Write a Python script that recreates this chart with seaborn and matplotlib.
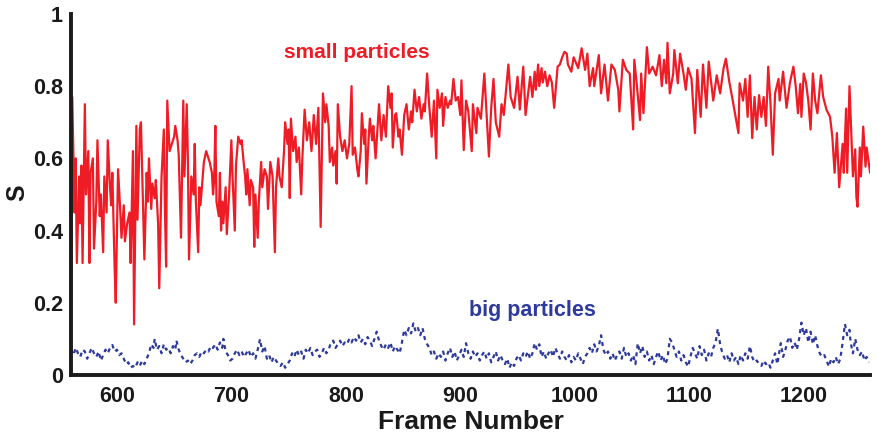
import numpy as np
import pandas as pd
import matplotlib
matplotlib.use("Agg")
import matplotlib.pyplot as plt
import seaborn as sns

# Order parameter S per frame, small particles
small_frames = [
    560, 561, 563, 564, 565, 567, 568, 569, 570, 572, 573, 575, 576, 577, 579, 580, 582, 583, 585, 586,
    588, 589, 591, 592, 594, 595, 596, 598, 599, 601, 603, 604, 606, 607, 609, 611, 612, 614, 615, 617,
    618, 620, 621, 623, 624, 626, 627, 628, 630, 631, 633, 634, 636, 637, 639, 641, 642, 643, 644, 646,
    648, 650, 651, 653, 654, 656, 658, 659, 661, 662, 663, 665, 667, 668, 669, 671, 672, 673, 675, 676,
    678, 680, 681, 683, 684, 685, 686, 687, 689, 690, 691, 692, 693, 695, 696, 698, 700, 701, 703, 704,
    706, 708, 709, 711, 712, 713, 714, 716, 717, 719, 720, 721, 723, 724, 726, 727, 729, 731, 732, 734,
    736, 738, 739, 741, 742, 744, 746, 747, 749, 750, 751, 752, 754, 756, 757, 759, 761, 762, 764, 766,
    768, 770, 772, 774, 776, 778, 780, 782, 783, 785, 786, 788, 789, 791, 792, 793, 795, 797, 799, 801,
    803, 805, 806, 808, 810, 811, 813, 814, 816, 817, 818, 820, 821, 823, 824, 826, 828, 829, 831, 833,
    835, 837, 839, 840, 841, 843, 844, 846, 847, 849, 851, 853, 855, 857, 858, 860, 862, 864, 866, 868,
    869, 871, 873, 875, 877, 879, 880, 882, 884, 885, 887, 889, 891, 892, 894, 896, 898, 900, 901, 903,
    905, 907, 910, 911, 914, 915, 918, 921, 923, 925, 927, 929, 931, 934, 936, 938, 942, 944, 947, 950,
    952, 955, 957, 961, 963, 965, 966, 968, 969, 971, 972, 974, 976, 978, 980, 982, 985, 987, 989, 991,
    993, 994, 997, 999, 1003, 1006, 1009, 1011, 1013, 1016, 1017, 1021, 1023, 1026, 1029, 1032, 1035, 1038, 1039, 1042,
    1045, 1048, 1051, 1052, 1054, 1057, 1058, 1060, 1063, 1065, 1068, 1071, 1074, 1076, 1078, 1080, 1081, 1083, 1086, 1087,
    1090, 1092, 1095, 1097, 1099, 1102, 1105, 1107, 1110, 1112, 1115, 1117, 1121, 1124, 1127, 1130, 1132, 1135, 1138, 1143,
    1144, 1147, 1149, 1151, 1153, 1155, 1157, 1159, 1161, 1163, 1165, 1167, 1169, 1171, 1173, 1175, 1178, 1179, 1182, 1185,
    1188, 1191, 1193, 1195, 1197, 1198, 1200, 1202, 1204, 1206, 1208, 1210, 1212, 1215, 1217, 1220, 1223, 1225, 1227, 1229,
    1230, 1231, 1234, 1235, 1237, 1238, 1240, 1242, 1243, 1245, 1246, 1247, 1249, 1250, 1252, 1254, 1255, 1258,
]
small_s = [
    0.20, 0.77, 0.45, 0.60, 0.31, 0.55, 0.42, 0.58, 0.31, 0.75, 0.50, 0.62, 0.31, 0.56, 0.60, 0.35, 0.48, 0.65, 0.44, 0.50,
    0.34, 0.55, 0.45, 0.65, 0.52, 0.47, 0.56, 0.30, 0.20, 0.57, 0.45, 0.38, 0.47, 0.37, 0.42, 0.45, 0.31, 0.62, 0.14, 0.69,
    0.43, 0.68, 0.70, 0.45, 0.32, 0.56, 0.48, 0.60, 0.46, 0.53, 0.49, 0.54, 0.42, 0.24, 0.55, 0.68, 0.45, 0.30, 0.76, 0.62,
    0.64, 0.66, 0.69, 0.65, 0.61, 0.38, 0.76, 0.55, 0.75, 0.60, 0.32, 0.55, 0.50, 0.64, 0.48, 0.34, 0.52, 0.47, 0.55, 0.59,
    0.62, 0.60, 0.59, 0.56, 0.50, 0.54, 0.69, 0.48, 0.44, 0.56, 0.40, 0.48, 0.42, 0.52, 0.39, 0.50, 0.65, 0.55, 0.40, 0.58,
    0.66, 0.64, 0.65, 0.58, 0.55, 0.50, 0.57, 0.47, 0.54, 0.52, 0.355, 0.50, 0.38, 0.48, 0.59, 0.52, 0.57, 0.55, 0.46, 0.59,
    0.55, 0.34, 0.52, 0.60, 0.55, 0.52, 0.62, 0.70, 0.64, 0.68, 0.49, 0.71, 0.62, 0.66, 0.59, 0.63, 0.50, 0.60, 0.735, 0.65,
    0.70, 0.62, 0.72, 0.64, 0.74, 0.41, 0.78, 0.70, 0.75, 0.69, 0.59, 0.63, 0.58, 0.62, 0.53, 0.75, 0.66, 0.62, 0.65, 0.60,
    0.64, 0.80, 0.61, 0.63, 0.57, 0.55, 0.62, 0.725, 0.64, 0.68, 0.53, 0.66, 0.71, 0.65, 0.69, 0.60, 0.70, 0.75, 0.65, 0.72,
    0.66, 0.80, 0.74, 0.78, 0.63, 0.72, 0.725, 0.66, 0.68, 0.61, 0.72, 0.75, 0.68, 0.73, 0.70, 0.79, 0.73, 0.77, 0.71, 0.75,
    0.73, 0.835, 0.74, 0.66, 0.76, 0.60, 0.79, 0.74, 0.78, 0.69, 0.77, 0.74, 0.76, 0.75, 0.82, 0.76, 0.77, 0.72, 0.816, 0.623,
    0.76, 0.73, 0.62, 0.75, 0.67, 0.74, 0.71, 0.835, 0.72, 0.605, 0.74, 0.82, 0.70, 0.66, 0.75, 0.72, 0.86, 0.77, 0.74, 0.826,
    0.735, 0.854, 0.72, 0.826, 0.77, 0.84, 0.79, 0.86, 0.80, 0.85, 0.81, 0.84, 0.80, 0.83, 0.81, 0.74, 0.854, 0.86, 0.88, 0.895,
    0.89, 0.86, 0.84, 0.88, 0.85, 0.905, 0.845, 0.89, 0.80, 0.85, 0.80, 0.886, 0.78, 0.86, 0.76, 0.86, 0.845, 0.79, 0.73, 0.873,
    0.845, 0.835, 0.68, 0.873, 0.81, 0.706, 0.835, 0.725, 0.908, 0.835, 0.854, 0.83, 0.886, 0.80, 0.873, 0.808, 0.92, 0.78, 0.835, 0.90,
    0.808, 0.89, 0.835, 0.79, 0.85, 0.82, 0.67, 0.845, 0.715, 0.86, 0.74, 0.868, 0.76, 0.83, 0.78, 0.85, 0.876, 0.812, 0.76, 0.67,
    0.808, 0.76, 0.82, 0.715, 0.83, 0.656, 0.77, 0.68, 0.775, 0.715, 0.77, 0.69, 0.854, 0.75, 0.61, 0.78, 0.82, 0.76, 0.84, 0.74,
    0.81, 0.854, 0.80, 0.725, 0.806, 0.715, 0.835, 0.81, 0.76, 0.68, 0.835, 0.76, 0.725, 0.83, 0.77, 0.734, 0.715, 0.66, 0.56, 0.67,
    0.595, 0.52, 0.64, 0.56, 0.738, 0.56, 0.80, 0.63, 0.55, 0.625, 0.494, 0.466, 0.63, 0.55, 0.688, 0.577, 0.63, 0.56,
]

# Order parameter S per frame, big particles
big_frames = [
    560, 562, 564, 566, 568, 570, 572, 574, 576, 578, 580, 582, 584, 586, 588, 590, 592, 594, 596, 598,
    600, 602, 604, 606, 608, 610, 612, 614, 616, 618, 620, 622, 624, 626, 628, 630, 632, 633, 635, 637,
    639, 641, 643, 645, 647, 649, 651, 652, 654, 656, 658, 660, 662, 664, 666, 668, 670, 672, 674, 676,
    678, 680, 682, 684, 686, 688, 690, 692, 693, 695, 697, 699, 701, 703, 705, 707, 709, 711, 713, 715,
    717, 719, 721, 723, 725, 727, 729, 731, 733, 735, 737, 739, 741, 743, 745, 747, 749, 751, 753, 755,
    757, 759, 761, 763, 765, 767, 769, 771, 773, 775, 777, 779, 781, 783, 785, 787, 789, 791, 793, 795,
    797, 799, 801, 803, 805, 807, 809, 811, 813, 815, 817, 819, 821, 823, 825, 827, 829, 831, 833, 835,
    837, 839, 841, 843, 845, 847, 849, 851, 853, 855, 857, 859, 861, 863, 865, 867, 869, 871, 873, 875,
    877, 879, 881, 883, 885, 887, 889, 891, 893, 895, 897, 899, 901, 903, 905, 907, 909, 911, 913, 915,
    917, 919, 921, 923, 925, 927, 929, 931, 933, 935, 937, 939, 941, 943, 945, 947, 949, 951, 953, 955,
    957, 959, 961, 963, 965, 967, 969, 971, 973, 975, 977, 979, 981, 983, 985, 987, 989, 991, 993, 995,
    997, 999, 1001, 1003, 1005, 1007, 1009, 1011, 1013, 1015, 1017, 1019, 1021, 1023, 1025, 1027, 1029, 1031, 1033, 1035,
    1037, 1039, 1041, 1043, 1045, 1047, 1049, 1051, 1053, 1055, 1057, 1059, 1061, 1063, 1065, 1067, 1069, 1071, 1073, 1075,
    1077, 1079, 1081, 1083, 1085, 1087, 1089, 1091, 1093, 1095, 1097, 1099, 1101, 1103, 1105, 1107, 1109, 1111, 1113, 1115,
    1117, 1119, 1121, 1123, 1125, 1127, 1129, 1131, 1133, 1135, 1137, 1139, 1141, 1143, 1145, 1147, 1149, 1151, 1153, 1155,
    1157, 1159, 1161, 1163, 1165, 1167, 1169, 1171, 1173, 1175, 1177, 1179, 1180, 1182, 1184, 1186, 1188, 1190, 1192, 1194,
    1196, 1198, 1200, 1202, 1204, 1206, 1208, 1210, 1212, 1214, 1216, 1218, 1220, 1222, 1224, 1226, 1228, 1230, 1232, 1234,
    1236, 1238, 1240, 1241, 1243, 1245, 1247, 1249, 1251, 1253, 1255, 1257,
]
big_s = [
    0.07, 0.055, 0.075, 0.06, 0.05, 0.07, 0.065, 0.045, 0.06, 0.075, 0.06, 0.05, 0.065, 0.04, 0.055, 0.07, 0.06, 0.075, 0.083, 0.065,
    0.07, 0.055, 0.06, 0.045, 0.03, 0.035, 0.02, 0.025, 0.02, 0.035, 0.025, 0.04, 0.03, 0.045, 0.06, 0.085, 0.075, 0.10, 0.07, 0.08,
    0.06, 0.085, 0.07, 0.075, 0.06, 0.08, 0.07, 0.095, 0.07, 0.055, 0.045, 0.035, 0.04, 0.03, 0.04, 0.055, 0.06, 0.05, 0.065, 0.06,
    0.07, 0.065, 0.08, 0.075, 0.085, 0.07, 0.09, 0.075, 0.10, 0.065, 0.055, 0.04, 0.045, 0.06, 0.07, 0.055, 0.065, 0.05, 0.06, 0.07,
    0.05, 0.06, 0.045, 0.07, 0.099, 0.065, 0.08, 0.045, 0.055, 0.035, 0.05, 0.04, 0.03, 0.025, 0.035, 0.02, 0.03, 0.04, 0.06, 0.05,
    0.07, 0.055, 0.065, 0.045, 0.07, 0.06, 0.075, 0.055, 0.065, 0.07, 0.05, 0.06, 0.075, 0.06, 0.07, 0.09, 0.095, 0.075, 0.085, 0.095,
    0.08, 0.09, 0.085, 0.10, 0.09, 0.105, 0.095, 0.11, 0.09, 0.10, 0.085, 0.105, 0.095, 0.08, 0.10, 0.12, 0.095, 0.08, 0.07, 0.085,
    0.075, 0.09, 0.065, 0.08, 0.07, 0.06, 0.09, 0.125, 0.11, 0.13, 0.115, 0.143, 0.12, 0.13, 0.11, 0.13, 0.10, 0.085, 0.075, 0.055,
    0.065, 0.045, 0.06, 0.05, 0.065, 0.04, 0.06, 0.075, 0.05, 0.065, 0.04, 0.055, 0.07, 0.05, 0.088, 0.06, 0.045, 0.065, 0.05, 0.06,
    0.04, 0.055, 0.065, 0.045, 0.06, 0.035, 0.05, 0.065, 0.04, 0.055, 0.04, 0.03, 0.045, 0.02, 0.035, 0.025, 0.045, 0.055, 0.04, 0.06,
    0.05, 0.065, 0.045, 0.06, 0.088, 0.07, 0.085, 0.05, 0.065, 0.045, 0.06, 0.07, 0.05, 0.075, 0.06, 0.045, 0.065, 0.05, 0.04, 0.055,
    0.035, 0.05, 0.04, 0.06, 0.045, 0.03, 0.05, 0.06, 0.075, 0.06, 0.085, 0.065, 0.08, 0.11, 0.07, 0.055, 0.065, 0.045, 0.06, 0.04,
    0.055, 0.065, 0.045, 0.075, 0.05, 0.06, 0.04, 0.055, 0.03, 0.088, 0.06, 0.08, 0.05, 0.065, 0.04, 0.055, 0.03, 0.05, 0.065, 0.04,
    0.055, 0.03, 0.045, 0.10, 0.09, 0.07, 0.05, 0.065, 0.04, 0.055, 0.035, 0.023, 0.05, 0.075, 0.06, 0.045, 0.08, 0.055, 0.07, 0.04,
    0.06, 0.05, 0.075, 0.09, 0.128, 0.085, 0.06, 0.045, 0.055, 0.035, 0.06, 0.04, 0.05, 0.03, 0.055, 0.04, 0.06, 0.045, 0.08, 0.05,
    0.035, 0.04, 0.03, 0.025, 0.04, 0.03, 0.035, 0.02, 0.04, 0.06, 0.03, 0.07, 0.088, 0.05, 0.07, 0.095, 0.106, 0.075, 0.09, 0.07,
    0.10, 0.145, 0.11, 0.13, 0.09, 0.12, 0.085, 0.11, 0.08, 0.06, 0.05, 0.055, 0.04, 0.023, 0.045, 0.035, 0.05, 0.03, 0.045, 0.09,
    0.141, 0.11, 0.125, 0.09, 0.06, 0.10, 0.07, 0.055, 0.065, 0.04, 0.05, 0.035,
]

x_ticks = [600, 700, 800, 900, 1000, 1100, 1200]
y_ticks = [0, 0.2, 0.4, 0.6, 0.8, 1]
y_tick_labels = ["0", "0.2", "0.4", "0.6", "0.8", "1"]

RED = "#ee1c24"
BLUE = "#2e3b9c"
INK = "#1a1a1a"

sns.set_theme(style="white")
plt.rcParams["font.family"] = ["Liberation Sans", "DejaVu Sans"]
plt.rcParams["font.weight"] = "bold"

small_df = pd.DataFrame({"frame": small_frames, "S": small_s})
big_df = pd.DataFrame({"frame": big_frames, "S": big_s})

fig = plt.figure(figsize=(8.78, 4.36), dpi=100)
ax = fig.add_axes([0.081, 0.140, 0.910, 0.828])

sns.lineplot(data=small_df, x="frame", y="S", ax=ax, color=RED, linewidth=1.6,
             estimator=None, sort=False)
sns.lineplot(data=big_df, x="frame", y="S", ax=ax, color=BLUE, linewidth=1.6,
             estimator=None, sort=False, linestyle=(0, (1.8, 1.8)))

ax.set_xlim(560, 1258)
ax.set_ylim(0, 1)
ax.set_xticks(x_ticks)
ax.set_yticks(y_ticks)
ax.set_yticklabels(y_tick_labels)

for side in ("top", "right"):
    ax.spines[side].set_visible(False)
for side in ("left", "bottom"):
    ax.spines[side].set_linewidth(2.8)
    ax.spines[side].set_color(INK)

ax.tick_params(axis="both", direction="in", length=7, width=2.8, color=INK,
               labelsize=15.5, labelcolor=INK)
ax.tick_params(axis="x", pad=8)
ax.tick_params(axis="y", pad=6)
for lbl in ax.get_xticklabels() + ax.get_yticklabels():
    lbl.set_fontweight("bold")

ax.set_xlabel("Frame Number", fontsize=19, fontweight="bold", color=INK, labelpad=2)
ax.set_ylabel("S", fontsize=18, fontweight="bold", color=INK)
ax.yaxis.set_label_coords(-0.052, 0.504)

ax.text(810, 0.893, "small particles", color=RED, fontsize=15, fontweight="bold",
        ha="center", va="center")
ax.text(963, 0.178, "big particles", color=BLUE, fontsize=15.5, fontweight="bold",
        ha="center", va="center")

fig.savefig("out.png", dpi=100)
